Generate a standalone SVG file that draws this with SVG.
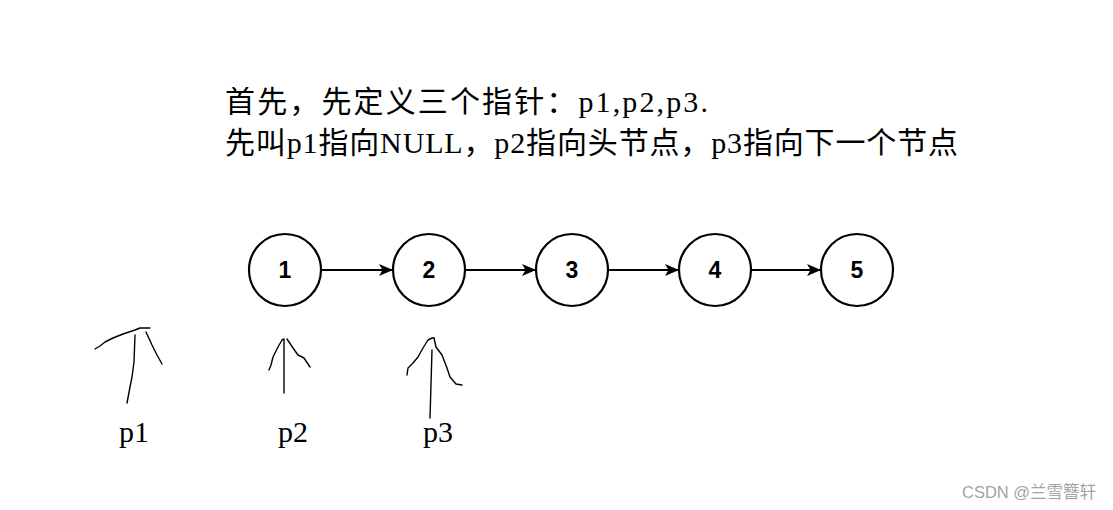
<svg xmlns="http://www.w3.org/2000/svg" width="1113" height="510" viewBox="0 0 1113 510">
<style>
.node circle{fill:#fff;stroke:#000;stroke-width:2.2}
.node text{font-family:"Liberation Sans",Arial,sans-serif;font-weight:bold;font-size:23px;text-anchor:middle;fill:#000}
.conn line{stroke:#000;stroke-width:2}
.hand path{fill:none;stroke:#000;stroke-width:1.4;stroke-linecap:round;stroke-linejoin:round}
.cap{font-family:"Liberation Serif","Noto Sans CJK SC",serif;font-size:30px;fill:#000}
.lbl{font-family:"Liberation Serif",serif;font-size:30px;fill:#000}
.wm{font-family:"Liberation Sans","Noto Sans CJK SC",sans-serif;font-size:16.5px;fill:#a3a3a3}
</style>
<defs>
<marker id="arr" viewBox="0 0 14 12" refX="13" refY="6" markerWidth="14" markerHeight="12" markerUnits="userSpaceOnUse" orient="auto">
<path d="M0,0 L14,6 L0,12 L3.5,6 Z" fill="#000"/>
</marker>
</defs>
<rect width="1113" height="510" fill="#fff"/>
<text class="cap" x="225" y="112" textLength="483" lengthAdjust="spacing">首先，先定义三个指针：p1,p2,p3.</text>
<text class="cap" x="225" y="153" textLength="733" lengthAdjust="spacing">先叫p1指向NULL，p2指向头节点，p3指向下一个节点</text>
<g id="connectors" class="conn">
<line x1="321" y1="270" x2="392" y2="270" marker-end="url(#arr)"/>
<line x1="465" y1="270" x2="535" y2="270" marker-end="url(#arr)"/>
<line x1="608" y1="270" x2="678" y2="270" marker-end="url(#arr)"/>
<line x1="751" y1="270" x2="820" y2="270" marker-end="url(#arr)"/>
</g>
<g id="node1" class="node"><circle cx="285" cy="270" r="36"/><text x="285" y="278">1</text></g>
<g id="node2" class="node"><circle cx="429" cy="270" r="36"/><text x="429" y="278">2</text></g>
<g id="node3" class="node"><circle cx="572" cy="270" r="36"/><text x="572" y="278">3</text></g>
<g id="node4" class="node"><circle cx="715" cy="270" r="36"/><text x="715" y="278">4</text></g>
<g id="node5" class="node"><circle cx="857" cy="270" r="36"/><text x="857" y="278">5</text></g>
<g id="p1" class="hand">
<path d="M95,349 L100,346 L105,342 L113,338 L123,334 L135,330 L140,328 L150,328"/>
<path d="M135,335 L134,362 L132,377 L130,387 L127,403"/>
<path d="M146,332 L152,345 L157,355 L162,364"/>
<text class="lbl" x="119" y="442">p1</text>
</g>
<g id="p2" class="hand">
<path d="M269,370 L271,365 L273,357 L278,347 L282,340 L284,339"/>
<path d="M284,340 L284,393"/>
<path d="M287,339 L289,342 L293,348 L298,355 L304,358 L310,367"/>
<text class="lbl" x="278" y="442">p2</text>
</g>
<g id="p3" class="hand">
<path d="M407,375 L408,368 L413,363 L418,357 L423,348 L428,340 L432,338 L434,338"/>
<path d="M432,350 L430,418"/>
<path d="M434,338 L436,347 L442,355 L447,368 L450,377 L456,384 L462,385"/>
<text class="lbl" x="423" y="442">p3</text>
</g>
<text class="wm" x="962" y="498">CSDN @兰雪簪轩</text>
</svg>
